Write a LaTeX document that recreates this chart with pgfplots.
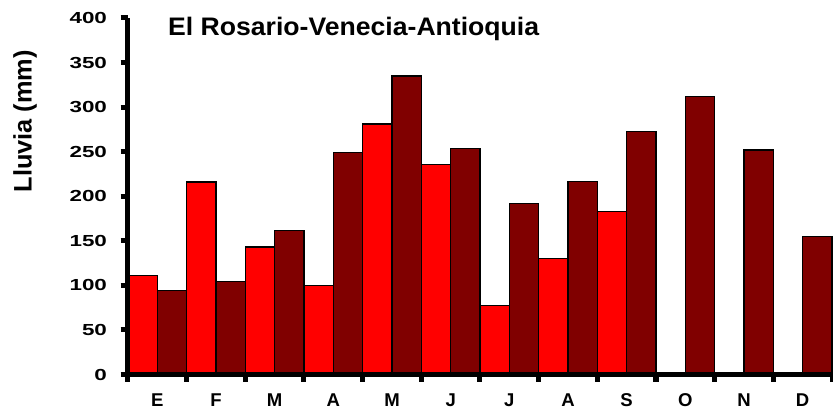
\documentclass[border=0pt]{standalone}
\usepackage{fontspec}
\setmainfont{Liberation Sans}
\usepackage{pgfplots}
\pgfplotsset{compat=1.18}
\definecolor{rojo}{HTML}{FF0000}
\definecolor{vino}{HTML}{800000}

\begin{document}
\begin{tikzpicture}
\begin{axis}[
  name=ax,
  scale only axis, width=528pt, height=267.4pt,
  xmin=0, xmax=12, ymin=0, ymax=400,
  axis lines*=left, axis on top, clip=false,
  axis line style={line width=3.75pt},
  tick style={line width=3.75pt, black},
  tick align=outside, major tick length=5.6pt,
  ytick={0,50,...,400},
  yticklabel={\scalebox{1.4}[1]{\pgfmathprintnumber[assume math mode=true]{\tick}}},
  yticklabel style={font=\fontsize{12}{12}\selectfont\bfseries, anchor=east, inner sep=0pt, xshift=-10pt},
  xtick={0,1,...,12}, xticklabels={},
  extra x ticks={0.5,1.5,2.5,3.5,4.5,5.5,6.5,7.5,8.5,9.5,10.5,11.5},
  extra x tick labels={E,F,M,A,M,J,J,A,S,O,N,D},
  extra x tick style={major tick length=0pt,
    xticklabel style={font=\fontsize{13.9}{14}\selectfont\bfseries, anchor=base, inner sep=0pt, yshift=-24pt}},
]
% lluvia mensual (mm), serie 1
\addplot[ybar, bar width=0.5, bar shift=0pt, fill=rojo, draw=black, line width=0.9pt]
  coordinates {(0.25,111)(1.25,216)(2.25,143)(3.25,100)(4.25,281)(5.25,236)(6.25,77)(7.25,130)(8.25,183)};
% serie 2
\addplot[ybar, bar width=0.5, bar shift=0pt, fill=vino, draw=black, line width=0.9pt]
  coordinates {(0.75,94)(1.75,104)(2.75,162)(3.75,249)(4.75,335)(5.75,254)(6.75,192)(7.75,217)(8.75,273)(9.75,312)(10.75,252)(11.75,155)};
\node[anchor=base west, inner sep=0pt, font=\fontsize{19}{20}\selectfont\bfseries]
  at (axis cs:0.68,380) {\scalebox{1.05}[1]{El Rosario-Venecia-Antioquia}};
\node[rotate=90, inner sep=0pt, font=\fontsize{19}{20}\selectfont\bfseries]
  at ([xshift=-77.25pt]rel axis cs:0,0.71) {Lluvia (mm)};
\end{axis}
\pgfresetboundingbox
\path[use as bounding box] ([xshift=-96pt,yshift=-30.4pt]ax.south west) rectangle ([xshift=0.75pt,yshift=13.5pt]ax.north east);
\end{tikzpicture}
\end{document}
